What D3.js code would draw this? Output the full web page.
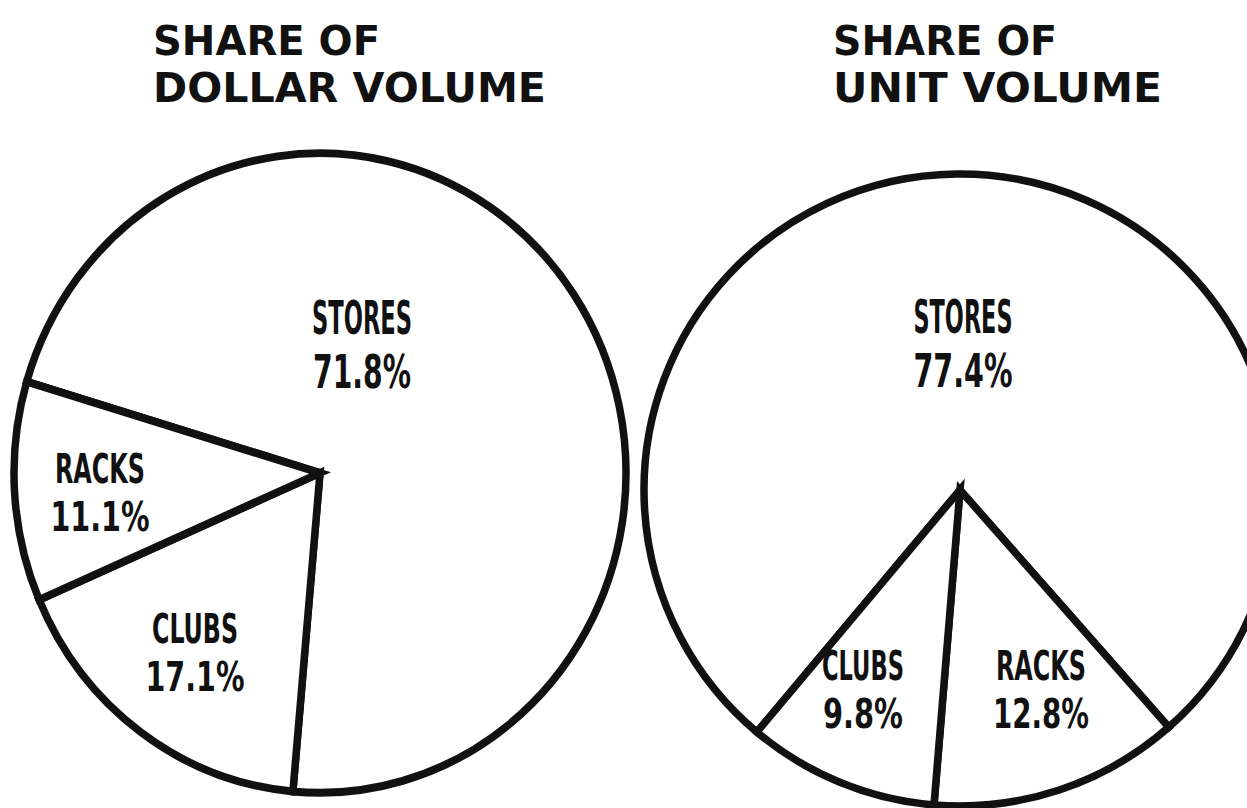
<!DOCTYPE html>
<html>
<head>
<meta charset="utf-8">
<script src="https://cdn.jsdelivr.net/npm/d3@7"></script>
<style>
  body { margin: 0; background: #fff; }
  .title { font-family: "DejaVu Sans", sans-serif; font-weight: bold; fill: #111; }
  .lbl { font-family: "DejaVu Sans Condensed", "DejaVu Sans", sans-serif; font-stretch: condensed; font-weight: bold; fill: #111; }
</style>
</head>
<body>
<svg width="1247" height="808"></svg>
<script>
// data
var dollarCategories = ["STORES", "CLUBS", "RACKS"];
var dollarValues = [71.8, 17.1, 11.1];
var unitCategories = ["STORES", "RACKS", "CLUBS"];
var unitValues = [77.4, 12.8, 9.8];
var dollarTitle = ["SHARE OF", "DOLLAR VOLUME"];
var unitTitle = ["SHARE OF", "UNIT VOLUME"];

var svg = d3.select("svg");
svg.append("rect").attr("width", 1247).attr("height", 808).attr("fill", "#fff");

var fmt = function(v) { return d3.format(".1f")(v) + "%"; };
var deg = Math.PI / 180;

// layout: label spots are hand placed like the printed chart
var charts = [
  { cats: dollarCategories, vals: dollarValues, title: dollarTitle,
    cx: 320, cy: 473, r: 306, sy: 1.045, start: -73.4,
    tx: 153, tw: [227, 393],
    labels: [
      { x: 362, y: 334, y2: 388, w: 100, w2: 98, fs: 46 },
      { x: 195, y: 643, y2: 691, w: 86, w2: 99, fs: 40 },
      { x: 100, y: 483, y2: 531, w: 90, w2: 99, fs: 40 }
    ] },
  { cats: unitCategories, vals: unitValues, title: unitTitle,
    cx: 960, cy: 490, r: 316, sy: 1, start: -140,
    tx: 833, tw: [224, 329],
    labels: [
      { x: 963, y: 333, y2: 387, w: 99, w2: 99, fs: 46 },
      { x: 1041, y: 680, y2: 728, w: 90, w2: 96, fs: 40 },
      { x: 863, y: 680, y2: 728, w: 82, w2: 80, fs: 40 }
    ] }
];

charts.forEach(function(c) {
  var pie = d3.pie().sort(null)
    .startAngle(c.start * deg)
    .endAngle((c.start + 360) * deg);
  var arc = d3.arc().innerRadius(0).outerRadius(c.r);

  var g = svg.append("g")
    .attr("transform", "translate(" + c.cx + "," + c.cy + ") scale(1," + c.sy + ")");

  g.selectAll("path")
    .data(pie(c.vals))
    .enter().append("path")
    .attr("d", arc)
    .attr("fill", "#fff")
    .attr("stroke", "#111")
    .attr("stroke-width", 7.5)
    .attr("stroke-linejoin", "miter");

  // title, two lines
  svg.selectAll(null)
    .data(c.title)
    .enter().append("text")
    .attr("class", "title")
    .attr("x", c.tx)
    .attr("y", function(d, i) { return 55 + i * 47; })
    .attr("font-size", 40)
    .attr("textLength", function(d, i) { return c.tw[i]; })
    .attr("lengthAdjust", "spacingAndGlyphs")
    .text(function(d) { return d; });

  // slice labels
  c.labels.forEach(function(l, i) {
    svg.append("text")
      .attr("class", "lbl")
      .attr("x", l.x).attr("y", l.y)
      .attr("text-anchor", "middle")
      .attr("font-size", l.fs)
      .attr("textLength", l.w)
      .attr("lengthAdjust", "spacingAndGlyphs")
      .text(c.cats[i]);
    svg.append("text")
      .attr("class", "lbl")
      .attr("x", l.x).attr("y", l.y2)
      .attr("text-anchor", "middle")
      .attr("font-size", l.fs)
      .attr("textLength", l.w2)
      .attr("lengthAdjust", "spacingAndGlyphs")
      .text(fmt(c.vals[i]));
  });
});
</script>
</body>
</html>
